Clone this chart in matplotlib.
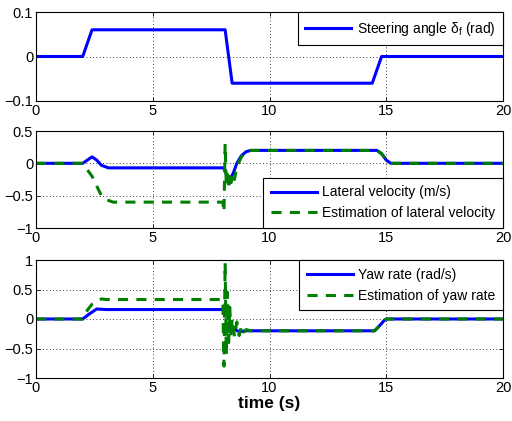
import matplotlib.pyplot as plt
import numpy as np

plt.rcParams['font.family'] = ['Liberation Sans', 'DejaVu Sans']

# steering angle
t_steer = [0, 2.0, 2.4, 8.1, 8.4, 14.4, 14.8, 20]
steer = [0, 0, 0.06, 0.06, -0.06, -0.06, 0, 0]

# lateral velocity
t_vy = [0, 2.0, 2.2, 2.4, 2.6, 2.8, 3.1, 8.0, 8.1, 8.2, 8.3, 8.45, 8.6, 8.8, 9.0, 9.2, 14.6, 14.8, 15.0, 15.2, 20]
vy = [0, 0, 0.05, 0.1, 0.05, -0.03, -0.07, -0.07, -0.1, -0.25, -0.25, -0.15, 0.0, 0.12, 0.18, 0.2, 0.2, 0.15, 0.05, 0.0, 0]
t_vy_est = [0, 2.0, 2.2, 2.4, 2.6, 2.8, 3.0, 3.3, 8.0, 8.05, 8.1, 8.15, 8.2, 8.25, 8.3, 8.35, 8.4, 8.5, 8.6, 8.8, 9.0, 9.2, 14.6, 14.8, 15.0, 15.2, 20]
vy_est = [0, 0, -0.1, -0.2, -0.35, -0.5, -0.56, -0.6, -0.6, -0.75, 0.3, -0.35, -0.1, -0.4, -0.15, -0.3, -0.15, -0.25, -0.05, 0.1, 0.18, 0.2, 0.2, 0.15, 0.05, 0.0, 0]

# yaw rate
t_r = [0, 2.0, 2.3, 2.6, 3.0, 8.0, 8.1, 8.2, 8.4, 8.6, 8.8, 9.0, 14.5, 14.7, 14.9, 15.0, 20]
r = [0, 0, 0.09, 0.17, 0.16, 0.16, 0.25, 0.05, -0.12, -0.2, -0.21, -0.2, -0.2, -0.12, -0.03, 0, 0]
t_r_est = [0, 2.0, 2.2, 2.4, 2.6, 2.8, 3.0, 8.0, 8.05, 8.1, 8.15, 8.2, 8.25, 8.3, 8.35, 8.4, 8.5, 8.6, 8.7, 8.8, 8.9, 9.0, 9.2, 14.5, 14.7, 14.9, 15.0, 20]
r_est = [0, 0, 0.15, 0.25, 0.3, 0.34, 0.33, 0.33, -0.8, 0.95, -0.6, 0.45, -0.4, 0.2, -0.3, 0.0, -0.3, -0.05, -0.28, -0.12, -0.22, -0.18, -0.2, -0.2, -0.12, -0.03, 0, 0]

fig = plt.figure(figsize=(5.12, 4.21), dpi=100)
left, width = 36 / 512, 467 / 512
ax1 = fig.add_axes([left, 1 - 101 / 421, width, 89 / 421])
ax2 = fig.add_axes([left, 1 - 228 / 421, width, 97 / 421])
ax3 = fig.add_axes([left, 1 - 378 / 421, width, 118 / 421])

blue = '#0000ff'
green = '#007f00'
dash = (0, (3.3, 2.7))
leg_kw = dict(handlelength=3.3, handletextpad=0.4, borderpad=0.55,
              borderaxespad=0, fontsize=10, fancybox=False,
              edgecolor='black', framealpha=1)

ax1.plot(t_steer, steer, color=blue, lw=2.2, label=r'Steering angle $\mathregular{\delta_f}$ (rad)')
ax1.set_ylim(-0.1, 0.1)
ax1.set_yticks([-0.1, 0, 0.1])
ax1.set_yticklabels(['\u22120.1', '0', '0.1'])
ax1.legend(loc='upper right', **leg_kw)

ax2.plot(t_vy, vy, color=blue, lw=2.2, label='Lateral velocity (m/s)')
ax2.plot(t_vy_est, vy_est, color=green, lw=2.2, ls=dash, label='Estimation of lateral velocity')
ax2.set_ylim(-1, 0.5)
ax2.set_yticks([-1, -0.5, 0, 0.5])
ax2.set_yticklabels(['\u22121', '\u22120.5', '0', '0.5'])
ax2.legend(loc='lower right', **leg_kw)

ax3.plot(t_r, r, color=blue, lw=2.2, label='Yaw rate (rad/s)')
ax3.plot(t_r_est, r_est, color=green, lw=2.2, ls=dash, label='Estimation of yaw rate')
ax3.set_ylim(-1, 1)
ax3.set_yticks([-1, -0.5, 0, 0.5, 1])
ax3.set_yticklabels(['\u22121', '\u22120.5', '0', '0.5', '1'])
ax3.legend(loc='upper right', **leg_kw)
ax3.set_xlabel('time (s)', fontsize=12.5, fontweight='bold', labelpad=1)

for ax in (ax1, ax2, ax3):
    ax.set_xlim(0, 20)
    ax.set_xticks([0, 5, 10, 15, 20])
    ax.grid(True, color='black', ls=(0, (1, 3)), lw=0.6)
    ax.tick_params(direction='in', length=3, width=0.6, top=True, right=True,
                   labelsize=10.5, pad=2)
    for s in ax.spines.values():
        s.set_linewidth(0.8)
    ax.get_legend().get_frame().set_linewidth(0.8)

fig.savefig('out.png', dpi=100)
